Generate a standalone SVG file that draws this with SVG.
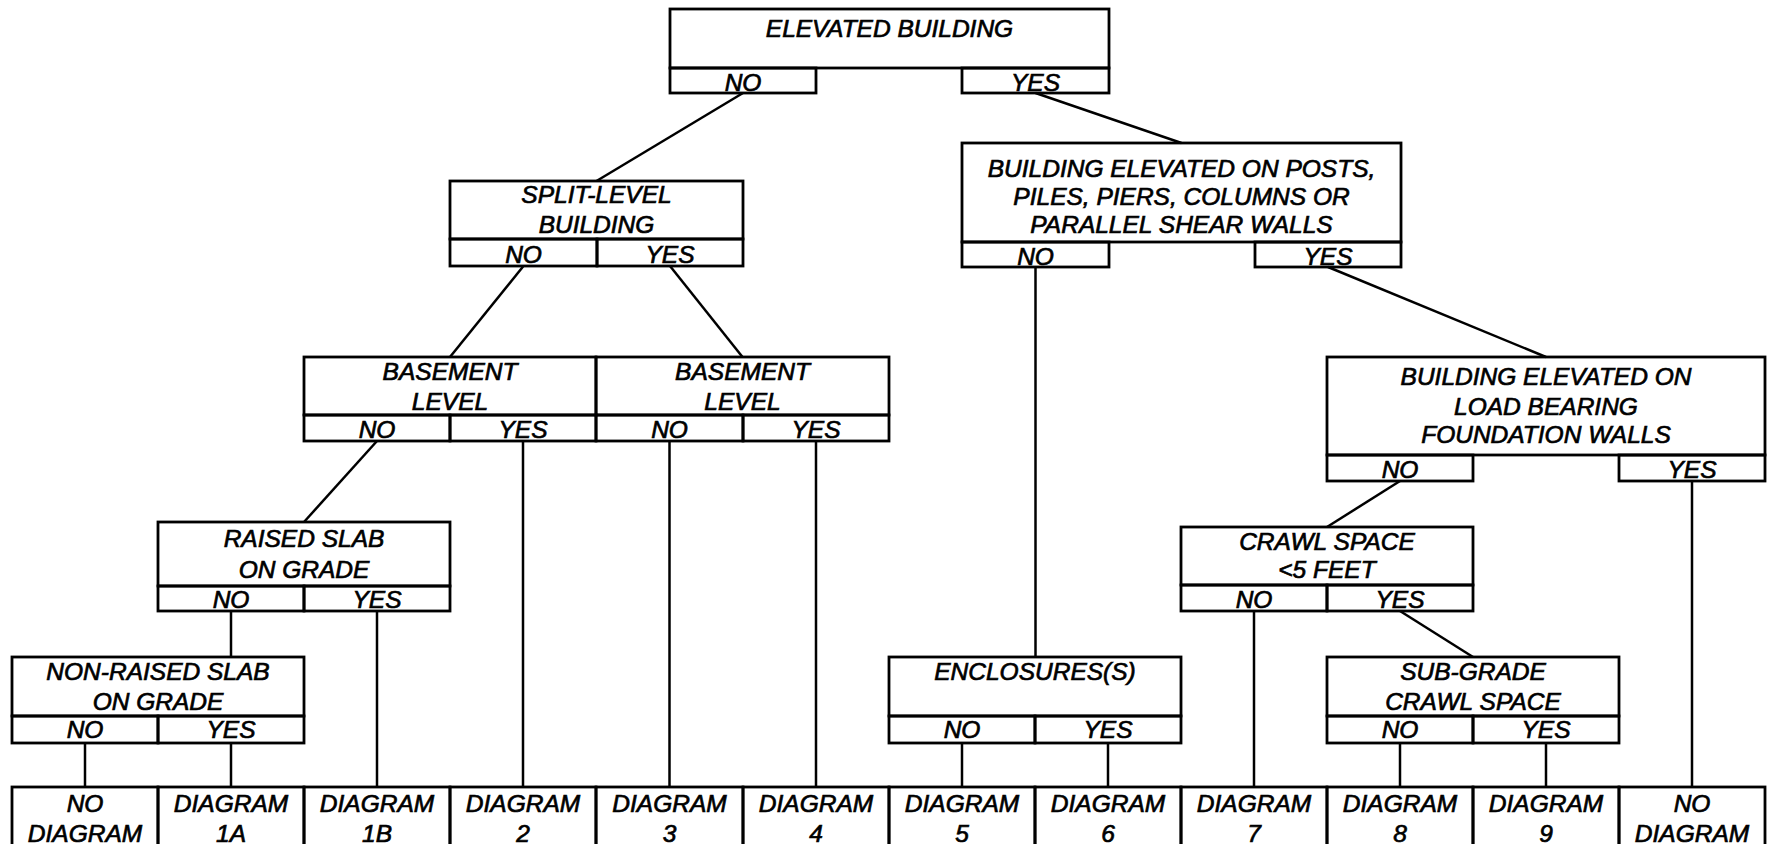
<svg xmlns="http://www.w3.org/2000/svg" width="1775" height="844" viewBox="0 0 1775 844">
<style>
.b{fill:none;stroke:#000;stroke-width:2.8}
.t{font-family:"Liberation Sans",Arial,sans-serif;font-style:italic;font-size:24.5px;text-anchor:middle;fill:#000;stroke:#000;stroke-width:0.7}
.c{fill:none;stroke:#000;stroke-width:2.5}
</style>
<rect width="1775" height="844" fill="#fff"/>
<g id="connectors">
<line class="c" x1="743" y1="93" x2="596.5" y2="181"/>
<line class="c" x1="1035.5" y1="93" x2="1181.5" y2="143"/>
<line class="c" x1="523.5" y1="266" x2="450" y2="357"/>
<line class="c" x1="670" y1="266" x2="742.5" y2="357"/>
<line class="c" x1="377" y1="441" x2="304" y2="522"/>
<line class="c" x1="523" y1="441" x2="523" y2="787"/>
<line class="c" x1="669.5" y1="441" x2="669.5" y2="787"/>
<line class="c" x1="816" y1="441" x2="816" y2="787"/>
<line class="c" x1="231" y1="611" x2="231" y2="657"/>
<line class="c" x1="377" y1="611" x2="377" y2="787"/>
<line class="c" x1="85" y1="743" x2="85" y2="787"/>
<line class="c" x1="231" y1="743" x2="231" y2="787"/>
<line class="c" x1="1035.5" y1="267" x2="1035.5" y2="657"/>
<line class="c" x1="1328" y1="267" x2="1546" y2="357"/>
<line class="c" x1="962" y1="743" x2="962" y2="787"/>
<line class="c" x1="1108" y1="743" x2="1108" y2="787"/>
<line class="c" x1="1400" y1="481" x2="1327" y2="527"/>
<line class="c" x1="1692" y1="481" x2="1692" y2="787"/>
<line class="c" x1="1254" y1="611" x2="1254" y2="787"/>
<line class="c" x1="1400" y1="611" x2="1473" y2="657"/>
<line class="c" x1="1400" y1="743" x2="1400" y2="787"/>
<line class="c" x1="1546" y1="743" x2="1546" y2="787"/>
</g>
<g id="n-elevated">
<rect class="b" x="670" y="9" width="439" height="59"/>
<rect class="b" x="670" y="68" width="146" height="25"/>
<rect class="b" x="962" y="68" width="147" height="25"/>
<text class="t" x="889.5" y="37">ELEVATED BUILDING</text>
<text class="t" x="743" y="91">NO</text>
<text class="t" x="1035.5" y="91">YES</text>
</g>
<g id="n-split">
<rect class="b" x="450" y="181" width="293" height="58"/>
<rect class="b" x="450" y="239" width="147" height="27"/>
<rect class="b" x="597" y="239" width="146" height="27"/>
<text class="t" x="596.5" y="203">SPLIT-LEVEL</text>
<text class="t" x="596.5" y="233">BUILDING</text>
<text class="t" x="523.5" y="263">NO</text>
<text class="t" x="670" y="263">YES</text>
</g>
<g id="n-posts">
<rect class="b" x="962" y="143" width="439" height="99"/>
<rect class="b" x="962" y="242" width="147" height="25"/>
<rect class="b" x="1255" y="242" width="146" height="25"/>
<text class="t" x="1181.5" y="177">BUILDING ELEVATED ON POSTS,</text>
<text class="t" x="1181.5" y="205">PILES, PIERS, COLUMNS OR</text>
<text class="t" x="1181.5" y="233">PARALLEL SHEAR WALLS</text>
<text class="t" x="1035.5" y="265">NO</text>
<text class="t" x="1328" y="265">YES</text>
</g>
<g id="n-basement1">
<rect class="b" x="304" y="357" width="292" height="58"/>
<rect class="b" x="304" y="415" width="146" height="26"/>
<rect class="b" x="450" y="415" width="146" height="26"/>
<text class="t" x="450" y="380">BASEMENT</text>
<text class="t" x="450" y="410">LEVEL</text>
<text class="t" x="377" y="438">NO</text>
<text class="t" x="523" y="438">YES</text>
</g>
<g id="n-basement2">
<rect class="b" x="596" y="357" width="293" height="58"/>
<rect class="b" x="596" y="415" width="147" height="26"/>
<rect class="b" x="743" y="415" width="146" height="26"/>
<text class="t" x="742.5" y="380">BASEMENT</text>
<text class="t" x="742.5" y="410">LEVEL</text>
<text class="t" x="669.5" y="438">NO</text>
<text class="t" x="816" y="438">YES</text>
</g>
<g id="n-loadbearing">
<rect class="b" x="1327" y="357" width="438" height="98"/>
<rect class="b" x="1327" y="455" width="146" height="26"/>
<rect class="b" x="1619" y="455" width="146" height="26"/>
<text class="t" x="1546" y="385">BUILDING ELEVATED ON</text>
<text class="t" x="1546" y="415">LOAD BEARING</text>
<text class="t" x="1546" y="443">FOUNDATION WALLS</text>
<text class="t" x="1400" y="478">NO</text>
<text class="t" x="1692" y="478">YES</text>
</g>
<g id="n-raised">
<rect class="b" x="158" y="522" width="292" height="64"/>
<rect class="b" x="158" y="586" width="146" height="25"/>
<rect class="b" x="304" y="586" width="146" height="25"/>
<text class="t" x="304" y="547">RAISED SLAB</text>
<text class="t" x="304" y="578">ON GRADE</text>
<text class="t" x="231" y="608">NO</text>
<text class="t" x="377" y="608">YES</text>
</g>
<g id="n-crawl">
<rect class="b" x="1181" y="527" width="292" height="58"/>
<rect class="b" x="1181" y="585" width="146" height="26"/>
<rect class="b" x="1327" y="585" width="146" height="26"/>
<text class="t" x="1327" y="550">CRAWL SPACE</text>
<text class="t" x="1327" y="578">&lt;5 FEET</text>
<text class="t" x="1254" y="608">NO</text>
<text class="t" x="1400" y="608">YES</text>
</g>
<g id="n-nonraised">
<rect class="b" x="12" y="657" width="292" height="59"/>
<rect class="b" x="12" y="716" width="146" height="27"/>
<rect class="b" x="158" y="716" width="146" height="27"/>
<text class="t" x="158" y="680">NON-RAISED SLAB</text>
<text class="t" x="158" y="710">ON GRADE</text>
<text class="t" x="85" y="738">NO</text>
<text class="t" x="231" y="738">YES</text>
</g>
<g id="n-enclosures">
<rect class="b" x="889" y="657" width="292" height="59"/>
<rect class="b" x="889" y="716" width="146" height="27"/>
<rect class="b" x="1035" y="716" width="146" height="27"/>
<text class="t" x="1035" y="680">ENCLOSURES(S)</text>
<text class="t" x="962" y="738">NO</text>
<text class="t" x="1108" y="738">YES</text>
</g>
<g id="n-subgrade">
<rect class="b" x="1327" y="657" width="292" height="59"/>
<rect class="b" x="1327" y="716" width="146" height="27"/>
<rect class="b" x="1473" y="716" width="146" height="27"/>
<text class="t" x="1473" y="680">SUB-GRADE</text>
<text class="t" x="1473" y="710">CRAWL SPACE</text>
<text class="t" x="1400" y="738">NO</text>
<text class="t" x="1546" y="738">YES</text>
</g>
<g id="r-nodiagram-a"><rect class="b" x="12" y="787" width="146" height="70"/><text class="t" x="85" y="812">NO</text><text class="t" x="85" y="842">DIAGRAM</text></g>
<g id="r-1a"><rect class="b" x="158" y="787" width="146" height="70"/><text class="t" x="231" y="812">DIAGRAM</text><text class="t" x="231" y="842">1A</text></g>
<g id="r-1b"><rect class="b" x="304" y="787" width="146" height="70"/><text class="t" x="377" y="812">DIAGRAM</text><text class="t" x="377" y="842">1B</text></g>
<g id="r-2"><rect class="b" x="450" y="787" width="146" height="70"/><text class="t" x="523" y="812">DIAGRAM</text><text class="t" x="523" y="842">2</text></g>
<g id="r-3"><rect class="b" x="596" y="787" width="147" height="70"/><text class="t" x="669.5" y="812">DIAGRAM</text><text class="t" x="669.5" y="842">3</text></g>
<g id="r-4"><rect class="b" x="743" y="787" width="146" height="70"/><text class="t" x="816" y="812">DIAGRAM</text><text class="t" x="816" y="842">4</text></g>
<g id="r-5"><rect class="b" x="889" y="787" width="146" height="70"/><text class="t" x="962" y="812">DIAGRAM</text><text class="t" x="962" y="842">5</text></g>
<g id="r-6"><rect class="b" x="1035" y="787" width="146" height="70"/><text class="t" x="1108" y="812">DIAGRAM</text><text class="t" x="1108" y="842">6</text></g>
<g id="r-7"><rect class="b" x="1181" y="787" width="146" height="70"/><text class="t" x="1254" y="812">DIAGRAM</text><text class="t" x="1254" y="842">7</text></g>
<g id="r-8"><rect class="b" x="1327" y="787" width="146" height="70"/><text class="t" x="1400" y="812">DIAGRAM</text><text class="t" x="1400" y="842">8</text></g>
<g id="r-9"><rect class="b" x="1473" y="787" width="146" height="70"/><text class="t" x="1546" y="812">DIAGRAM</text><text class="t" x="1546" y="842">9</text></g>
<g id="r-nodiagram-b"><rect class="b" x="1619" y="787" width="146" height="70"/><text class="t" x="1692" y="812">NO</text><text class="t" x="1692" y="842">DIAGRAM</text></g>
</svg>
